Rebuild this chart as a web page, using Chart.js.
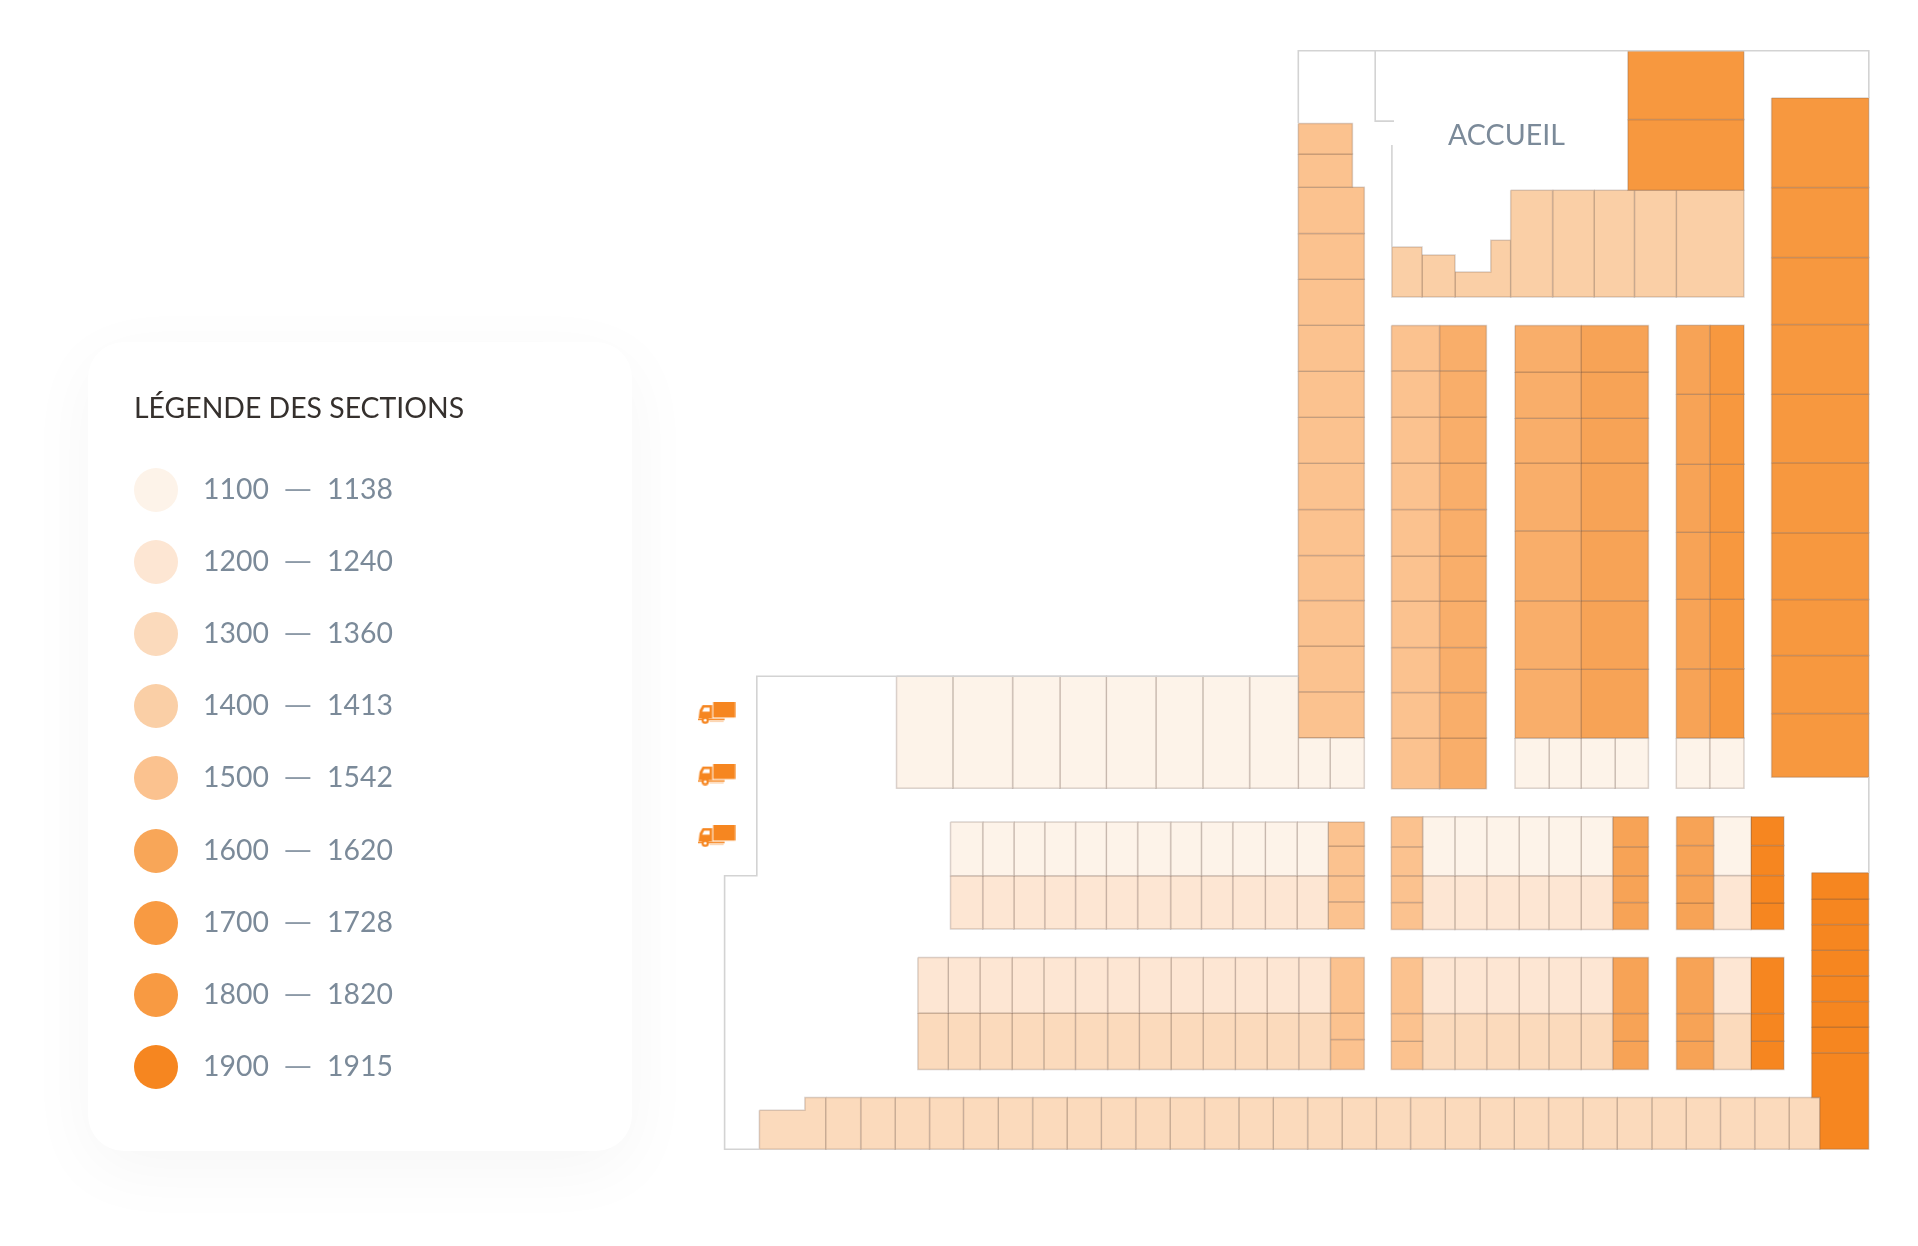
<!DOCTYPE html>
<html lang="fr"><head><meta charset="utf-8"><title>Plan des sections</title>
<script src="https://cdn.jsdelivr.net/npm/chart.js@4"></script>
<style>
html,body{margin:0;padding:0;background:#fff}
#wrap{position:relative;width:1918px;height:1246px;overflow:hidden;font-family:Lato,sans-serif}
#card{position:absolute;left:88px;top:342px;width:544px;height:809px;border-radius:36px;background:#fff;box-shadow:0 18px 70px rgba(0,0,0,.04)}
#chart{position:absolute;left:0;top:0;z-index:1}
#title{position:absolute;left:134px;top:389px;font-size:28.4px;line-height:36px;color:#35302d;white-space:nowrap;z-index:2}
.row{position:absolute;left:0;height:44px;z-index:2;color:#7b8a99;font-size:28.4px;line-height:44px}
.row span{position:absolute;top:-2px;white-space:nowrap}
.row i{position:absolute;left:134px;top:0;width:44px;height:44px;border-radius:50%}
#acc{position:absolute;left:1448px;top:116px;font-size:28.6px;line-height:36px;color:#7b8a99;z-index:2;white-space:nowrap}
</style></head><body>
<div id="wrap"><div id="card"></div><canvas id="chart" width="1918" height="1246"></canvas>
<div id="title">LÉGENDE DES SECTIONS</div><div id="acc">ACCUEIL</div><div id="legend"></div></div>
<script>
// Legend
const legendFrom=[1100,1200,1300,1400,1500,1600,1700,1800,1900];
const legendTo=[1138,1240,1360,1413,1542,1620,1728,1820,1915];
const legendColors=['#FDF3E9','#FDE6D3','#FBDABC','#FACFA6','#FBC28F','#F8A658','#F89A42','#F89A42','#F68620'];
const legendCentersY=[490,562,634,706,778,850.5,922.5,994.5,1066.5];
// Section colours (a few sections sit between two legend swatches)
const sectionColor={1100:'#FDF3E9',1200:'#FDE6D3',1300:'#FBDABC',1400:'#FACFA6',1500:'#FBC28F',1542:'#F9AE6A',1600:'#F7A356',1700:'#F7983F',1800:'#F7983F',1900:'#F68620'};
// Plan edges, in plan units
const colTopX=[1298.3,1352.4],colTopY=[123.3,154,187];
const colX=[1298.3,1364.3],colY=[187,233.3,279,325,371,417,463,509,555,600,645.5,691.3,737.3];
const colFootX=[1298.3,1330,1364.3],footY=[737.3,787.7];
const longRowX=[896.5,952.8,1012.6,1059.9,1106.3,1155.9,1202.8,1249.6,1298.3],longRowY=[675.7,787.7];
const officeX=[1627.9,1743.9],officeY=[50.7,119.3,190];
const accRowX=[1510.7,1552.6,1594.1,1634.4,1676.3,1743.9],accRowY=[190,296.7];
const eastX=[1771.6,1868.8],eastY=[98,187.3,257.3,324.3,394,462.4,532.3,599,655,713,776.7];
const aX1=[1391.5,1439.5],aX2=[1439.5,1486.4],aY=[325.3,370.5,416.7,462.7,509,555.5,600.6,647,692,737.3,788];
const bX1=[1515,1581],bX2=[1581,1648.4],bY=[325.3,371.7,418,462.7,530.3,600.3,668.7,737.3];
const bFootX=[1515,1549,1581,1615,1648.4];
const cX1=[1676.3,1709.7],cX2=[1709.7,1744],cY=[325,394,464,531.7,598.7,668.3,737.3],cFootX=[1676.3,1709.7,1744];
const r1X=[950.5,982.7,1013.9,1044.7,1075.5,1106.3,1137.6,1170.6,1201.4,1232.7,1265.3,1297,1328.2],r1Y1=[821.3,875],r1Y2=[875,928.3];
const r1EndX=[1328.2,1364.4],r1EndY=[821.3,845.3,875,901,928.3];
const r2X=[917.9,948.2,979.9,1012,1043.8,1075.4,1107.6,1139.3,1171,1203.1,1235.3,1267,1298.7,1330.4],r2Y1=[956.7,1012.3],r2Y2=[1012.3,1068.7];
const r2EndX=[1330.4,1364.3],r2EndY=[956.7,1012.3,1038.7,1068.7];
const mLeftX=[1391.3,1422.6],mCentreX=[1422.6,1454.8,1486.7,1519,1548.8,1581.1,1612.7],mRightX=[1612.7,1648.4];
const m1EndY=[816,846,875,901.7,928.7],m1Y1=[816,875],m1Y2=[875,928.7];
const m2EndY=[956.7,1012.7,1040.3,1068.7],m2Y1=[956.7,1012.7],m2Y2=[1012.7,1068.7];
const eLeftX=[1676.5,1713.6],eCentreX=[1713.6,1751],eRightX=[1751,1783.9];
const e1EndY=[816,844.7,874.7,902.3,928.7],e1Y1=[816,874.7],e1Y2=[874.7,928.7];
const baseX=[825.9,860.7,895.1,929.5,963.4,998.2,1032.6,1067,1101.3,1135.7,1170.1,1204.5,1238.8,1273.2,1307.6,1342,1376.3,1410.5,1445.2,1479.9,1514.2,1548.5,1582.8,1617.1,1651.8,1686.1,1720.4,1754.7,1789,1819.9],baseY=[1096.7,1148.3];
const towerX=[1811.7,1868.7],towerY=[872,898.3,923.7,949.5,975,1000.7,1026.3,1052];
// Irregular sections: [section, outline]
const shapeA=[[1391.9,246.7],[1422,246.7],[1422,296.7],[1391.9,296.7]];
const shapeB=[[1422,254.7],[1455,254.7],[1455,296.7],[1422,296.7]];
const shapeC=[[1455,271.7],[1490.8,271.7],[1490.8,240],[1510.7,240],[1510.7,296.7],[1455,296.7]];
const shapeD=[[759.4,1109.3],[804.9,1109.3],[804.9,1096.7],[825.9,1096.7],[825.9,1148.3],[759.4,1148.3]];
const shapeE=[[1811.7,1052],[1868.7,1052],[1868.7,1148.3],[1819.9,1148.3],[1819.9,1096.7],[1811.7,1096.7]];
// Walls
const wallTop=[[1298.3,123],[1298.3,50.7],[1868.8,50.7],[1868.8,98]];
const wallHall=[[1375.2,50.7],[1375.2,121],[1394,121]];
const wallAcc=[[1391.9,145],[1391.9,246.7]];
const wallEast=[[1868.8,776.7],[1868.8,872]];
const wallWest=[[1298.3,675.7],[756.8,675.7],[756.8,875],[724.6,875],[724.6,1148.3],[759.4,1148.3]];
// Docks
const dockX=[716.6,716.6,716.6],dockY=[712.5,774,835.5];

const datasets=[];
function poly(pts,section){
  const loop=pts.concat([pts[0]]).map(p=>({x:p[0],y:p[1]}));
  datasets.push({data:loop,showLine:true,fill:'shape',tension:0,pointRadius:0,borderWidth:1.5,
    backgroundColor:sectionColor[section],borderColor:'rgba(105,80,65,.24)',borderJoinStyle:'miter',clip:false});
}
function grid(xs,ys,section){
  for(let i=0;i<xs.length-1;i++)for(let j=0;j<ys.length-1;j++)
    poly([[xs[i],ys[j]],[xs[i+1],ys[j]],[xs[i+1],ys[j+1]],[xs[i],ys[j+1]]],section);
}
function wall(pts){
  datasets.push({data:pts.map(p=>({x:p[0],y:p[1]})),showLine:true,fill:false,tension:0,pointRadius:0,borderWidth:1.6,borderColor:'#d3d3d3',borderJoinStyle:'miter',clip:false});
}
[wallTop,wallHall,wallAcc,wallEast,wallWest].forEach(wall);
grid(longRowX,longRowY,1100);grid(colFootX,footY,1100);
grid(colTopX,colTopY,1500);grid(colX,colY,1500);
grid(officeX,officeY,1800);grid(accRowX,accRowY,1400);
[shapeA,shapeB,shapeC].forEach(s=>poly(s,1400));
grid(eastX,eastY,1800);
grid(aX1,aY,1500);grid(aX2,aY,1542);
grid(bX1,bY,1542);grid(bX2,bY,1600);grid(bFootX,footY,1100);
grid(cX1,cY,1600);grid(cX2,cY,1700);grid(cFootX,footY,1100);
grid(r1X,r1Y1,1100);grid(r1X,r1Y2,1200);grid(r1EndX,r1EndY,1500);
grid(r2X,r2Y1,1200);grid(r2X,r2Y2,1300);grid(r2EndX,r2EndY,1500);
grid(mLeftX,m1EndY,1500);grid(mCentreX,m1Y1,1100);grid(mCentreX,m1Y2,1200);grid(mRightX,m1EndY,1600);
grid(mLeftX,m2EndY,1500);grid(mCentreX,m2Y1,1200);grid(mCentreX,m2Y2,1300);grid(mRightX,m2EndY,1600);
grid(eLeftX,e1EndY,1600);grid(eCentreX,e1Y1,1100);grid(eCentreX,e1Y2,1200);grid(eRightX,e1EndY,1900);
grid(eLeftX,m2EndY,1600);grid(eCentreX,m2Y1,1200);grid(eCentreX,m2Y2,1300);grid(eRightX,m2EndY,1900);
grid(towerX,towerY,1900);poly(shapeE,1900);
grid(baseX,baseY,1300);poly(shapeD,1300);

// Truck marker
const truck=document.createElement('canvas');truck.width=38;truck.height=22;
(function(){const c=truck.getContext('2d'),o='#F68620';c.fillStyle=o;
  c.fillRect(15.6,0,22,15.4);
  c.beginPath();c.moveTo(1,16.3);c.lineTo(2,8);c.lineTo(5,3);c.lineTo(14.6,3);c.lineTo(14.6,16.3);c.closePath();c.fill();
  c.fillStyle='#fff';c.beginPath();c.moveTo(4.5,9.5);c.lineTo(6.5,5.4);c.lineTo(12,5.4);c.lineTo(12,9.5);c.closePath();c.fill();
  c.fillStyle=o;c.fillRect(0,16.6,27,1.5);c.fillStyle='#fbc28f';c.fillRect(12,18.7,14,1);
  c.beginPath();c.arc(7.6,18.2,3.6,0,Math.PI*2);c.fillStyle=o;c.fill();
  c.beginPath();c.arc(7.6,18.2,1.4,0,Math.PI*2);c.fillStyle='#fff';c.fill();
})();
datasets.push({data:dockX.map((x,i)=>({x,y:dockY[i]})),showLine:false,pointStyle:truck,pointRadius:12,clip:false});

new Chart(document.getElementById('chart'),{type:'scatter',data:{datasets},options:{
  responsive:false,animation:false,layout:{padding:0,autoPadding:false},
  plugins:{legend:{display:false},tooltip:{enabled:false}},
  elements:{line:{capBezierPoints:false}},
  scales:{x:{type:'linear',display:false,min:0,max:1918},y:{type:'linear',display:false,reverse:true,min:0,max:1245}}
}});

const legend=document.getElementById('legend');
legendFrom.forEach((v,i)=>{
  const r=document.createElement('div');r.className='row';r.style.top=(legendCentersY[i]-22)+'px';
  r.innerHTML='<i style="background:'+legendColors[i]+'"></i><span style="left:203px">'+v+'</span><span style="left:283px;color:#8d9aa7;font-weight:400;transform:scaleX(1.32);transform-origin:left">—</span><span style="left:327px">'+legendTo[i]+'</span>';
  legend.appendChild(r);
});
</script></body></html>
